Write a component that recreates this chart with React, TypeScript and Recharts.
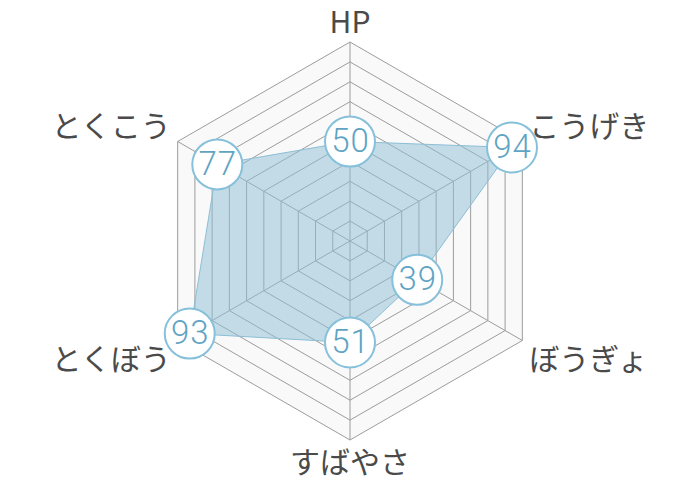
import React from 'react';
import { RadarChart, Radar, PolarGrid, PolarAngleAxis, PolarRadiusAxis } from 'recharts';

const stats = ['HP', 'こうげき', 'ぼうぎょ', 'すばやさ', 'とくぼう', 'とくこう'];
const values = [50, 94, 39, 51, 93, 77];
const maxValue = 100;

const data = stats.map((s, i) => ({ stat: s, value: values[i], full: maxValue }));

const AngleTick = (props: any) => {
  const { x, y, cy, payload, textAnchor } = props;
  const below = y > cy + 1;
  return (
    <text
      x={x}
      y={y}
      dy={below ? 25 : -1}
      textAnchor={textAnchor}
      fill="#4a4a4a"
      fontSize={30}
      fontFamily="'Noto Sans CJK JP', 'Noto Sans', sans-serif"
    >
      {payload.value}
    </text>
  );
};

const ValueDot = (props: any) => {
  const { cx, cy, index } = props;
  const v = values[index];
  return (
    <g key={`dot-${index}`}>
      <circle cx={cx} cy={cy} r={25} fill="#ffffff" stroke="#86c0da" strokeWidth={2} />
      <text
        x={cx}
        y={cy}
        dx={0.5}
        dy={10.5}
        textAnchor="middle"
        fill="#5fa4c3"
        fontSize={33}
        letterSpacing={1}
        fontWeight={300}
        fontFamily="Roboto, 'Noto Sans', sans-serif"
      >
        {v}
      </text>
    </g>
  );
};

const chartProps = {
  width: 700,
  height: 480,
  data,
  cx: 350,
  cy: 241,
  outerRadius: 199,
  startAngle: 90,
  endAngle: -270,
};

export default function App() {
  return (
    <div style={{ position: 'absolute', left: 0, top: 0, width: 700, height: 480 }}>
      <div style={{ position: 'absolute', left: 0, top: 0 }}>
        <RadarChart {...chartProps}>
          <PolarRadiusAxis domain={[0, maxValue]} tickCount={11} axisLine={false} tick={false} />
          <PolarAngleAxis dataKey="stat" tick={false} tickLine={false} axisLine={false} />
          <Radar dataKey="full" fill="#f9f9f9" fillOpacity={1} stroke="none" isAnimationActive={false} dot={false} />
        </RadarChart>
      </div>
      <div style={{ position: 'absolute', left: 0, top: 0 }}>
        <RadarChart {...chartProps}>
          <PolarGrid stroke="#9c9c9c" strokeWidth={1} />
          <PolarRadiusAxis domain={[0, maxValue]} tickCount={11} axisLine={false} tick={false} />
          <PolarAngleAxis dataKey="stat" tick={<AngleTick />} tickLine={false} axisLine={false} />
          <Radar
            dataKey="value"
            fill="#8bbdd3"
            fillOpacity={0.5}
            stroke="#8cbed6"
            strokeWidth={1}
            isAnimationActive={false}
            dot={<ValueDot />}
          />
        </RadarChart>
      </div>
    </div>
  );
}
